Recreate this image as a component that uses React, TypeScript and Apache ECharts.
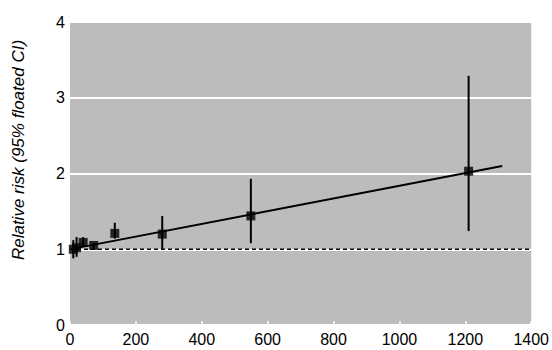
import React, { useEffect, useRef } from "react";
import * as echarts from "echarts";

const doseX = [10, 20, 40, 72, 136, 280, 549, 1210];
const riskY = [1.0, 1.02, 1.09, 1.05, 1.21, 1.2, 1.44, 2.03];
const ciLow = [0.88, 0.9, 1.03, 1.01, 1.14, 1.0, 1.08, 1.24];
const ciHigh = [1.12, 1.16, 1.16, 1.08, 1.35, 1.44, 1.93, 3.29];
const trendLine = [
  [18, 1.015],
  [1312, 2.1],
];
const refLine = [
  [0, 1],
  [1400, 1],
];
const xTicks = [0, 200, 400, 600, 800, 1000, 1200, 1400];
const yTicks = [0, 1, 2, 3, 4];
const yTitle = "Relative risk (95% floated CI)";

const FONT = "'Liberation Sans', Arial, sans-serif";

export default function App() {
  const ref = useRef<HTMLDivElement>(null);
  useEffect(() => {
    if (!ref.current) return;
    const chart = echarts.init(ref.current, null, { renderer: "svg" });
    const errData = doseX.map((x, i) => [x, ciLow[i], ciHigh[i]]);
    chart.setOption({
      animation: false,
      backgroundColor: "#ffffff",
      grid: {
        left: 70,
        right: 18,
        top: 22,
        bottom: 25,
        show: true,
        backgroundColor: "#bcbcbc",
        borderWidth: 0,
      },
      graphic: [
        {
          type: "text",
          x: 18,
          y: 150,
          rotation: Math.PI / 2,
          style: {
            text: yTitle,
            fill: "#000",
            font: `italic 17px ${FONT}`,
            align: "center",
            verticalAlign: "middle",
          },
        },
      ],
      xAxis: {
        type: "value",
        min: xTicks[0],
        max: xTicks[xTicks.length - 1],
        interval: 200,
        axisLine: { show: false },
        axisTick: { show: true, inside: true, length: 4, lineStyle: { color: "#ffffff", width: 1.5 } },
        splitLine: { show: false },
        axisLabel: {
          color: "#000",
          fontSize: 16,
          fontFamily: FONT,
          margin: 6,
          formatter: (v: number) => String(v),
        },
      },
      yAxis: {
        type: "value",
        min: yTicks[0],
        max: yTicks[yTicks.length - 1],
        interval: 1,
        axisLine: { show: false },
        axisTick: { show: false },
        splitLine: { show: true, lineStyle: { color: "#ffffff", width: 2 } },
        axisLabel: { color: "#000", fontSize: 16, fontFamily: FONT, margin: 5 },
      },
      series: [
        {
          type: "line",
          data: refLine,
          symbol: "none",
          lineStyle: { color: "#000", width: 1.5, type: [4, 3] },
          z: 2,
        },
        {
          type: "line",
          data: trendLine,
          symbol: "none",
          lineStyle: { color: "#000", width: 2 },
          z: 3,
        },
        {
          type: "custom",
          data: errData,
          z: 4,
          renderItem: (params: any, api: any) => {
            const x = api.value(0);
            const lo = api.coord([x, api.value(1)]);
            const hi = api.coord([x, api.value(2)]);
            return {
              type: "line",
              shape: { x1: lo[0], y1: lo[1], x2: hi[0], y2: hi[1] },
              style: { stroke: "#000", lineWidth: 2 },
            };
          },
        },
        {
          type: "scatter",
          data: doseX.map((x, i) => [x, riskY[i]]),
          symbol: "rect",
          symbolSize: 9,
          itemStyle: { color: "#000" },
          z: 5,
        },
      ],
    });
    return () => chart.dispose();
  }, []);
  return <div ref={ref} style={{ width: 552, height: 350, position: "absolute", left: 0, top: 0 }} />;
}
